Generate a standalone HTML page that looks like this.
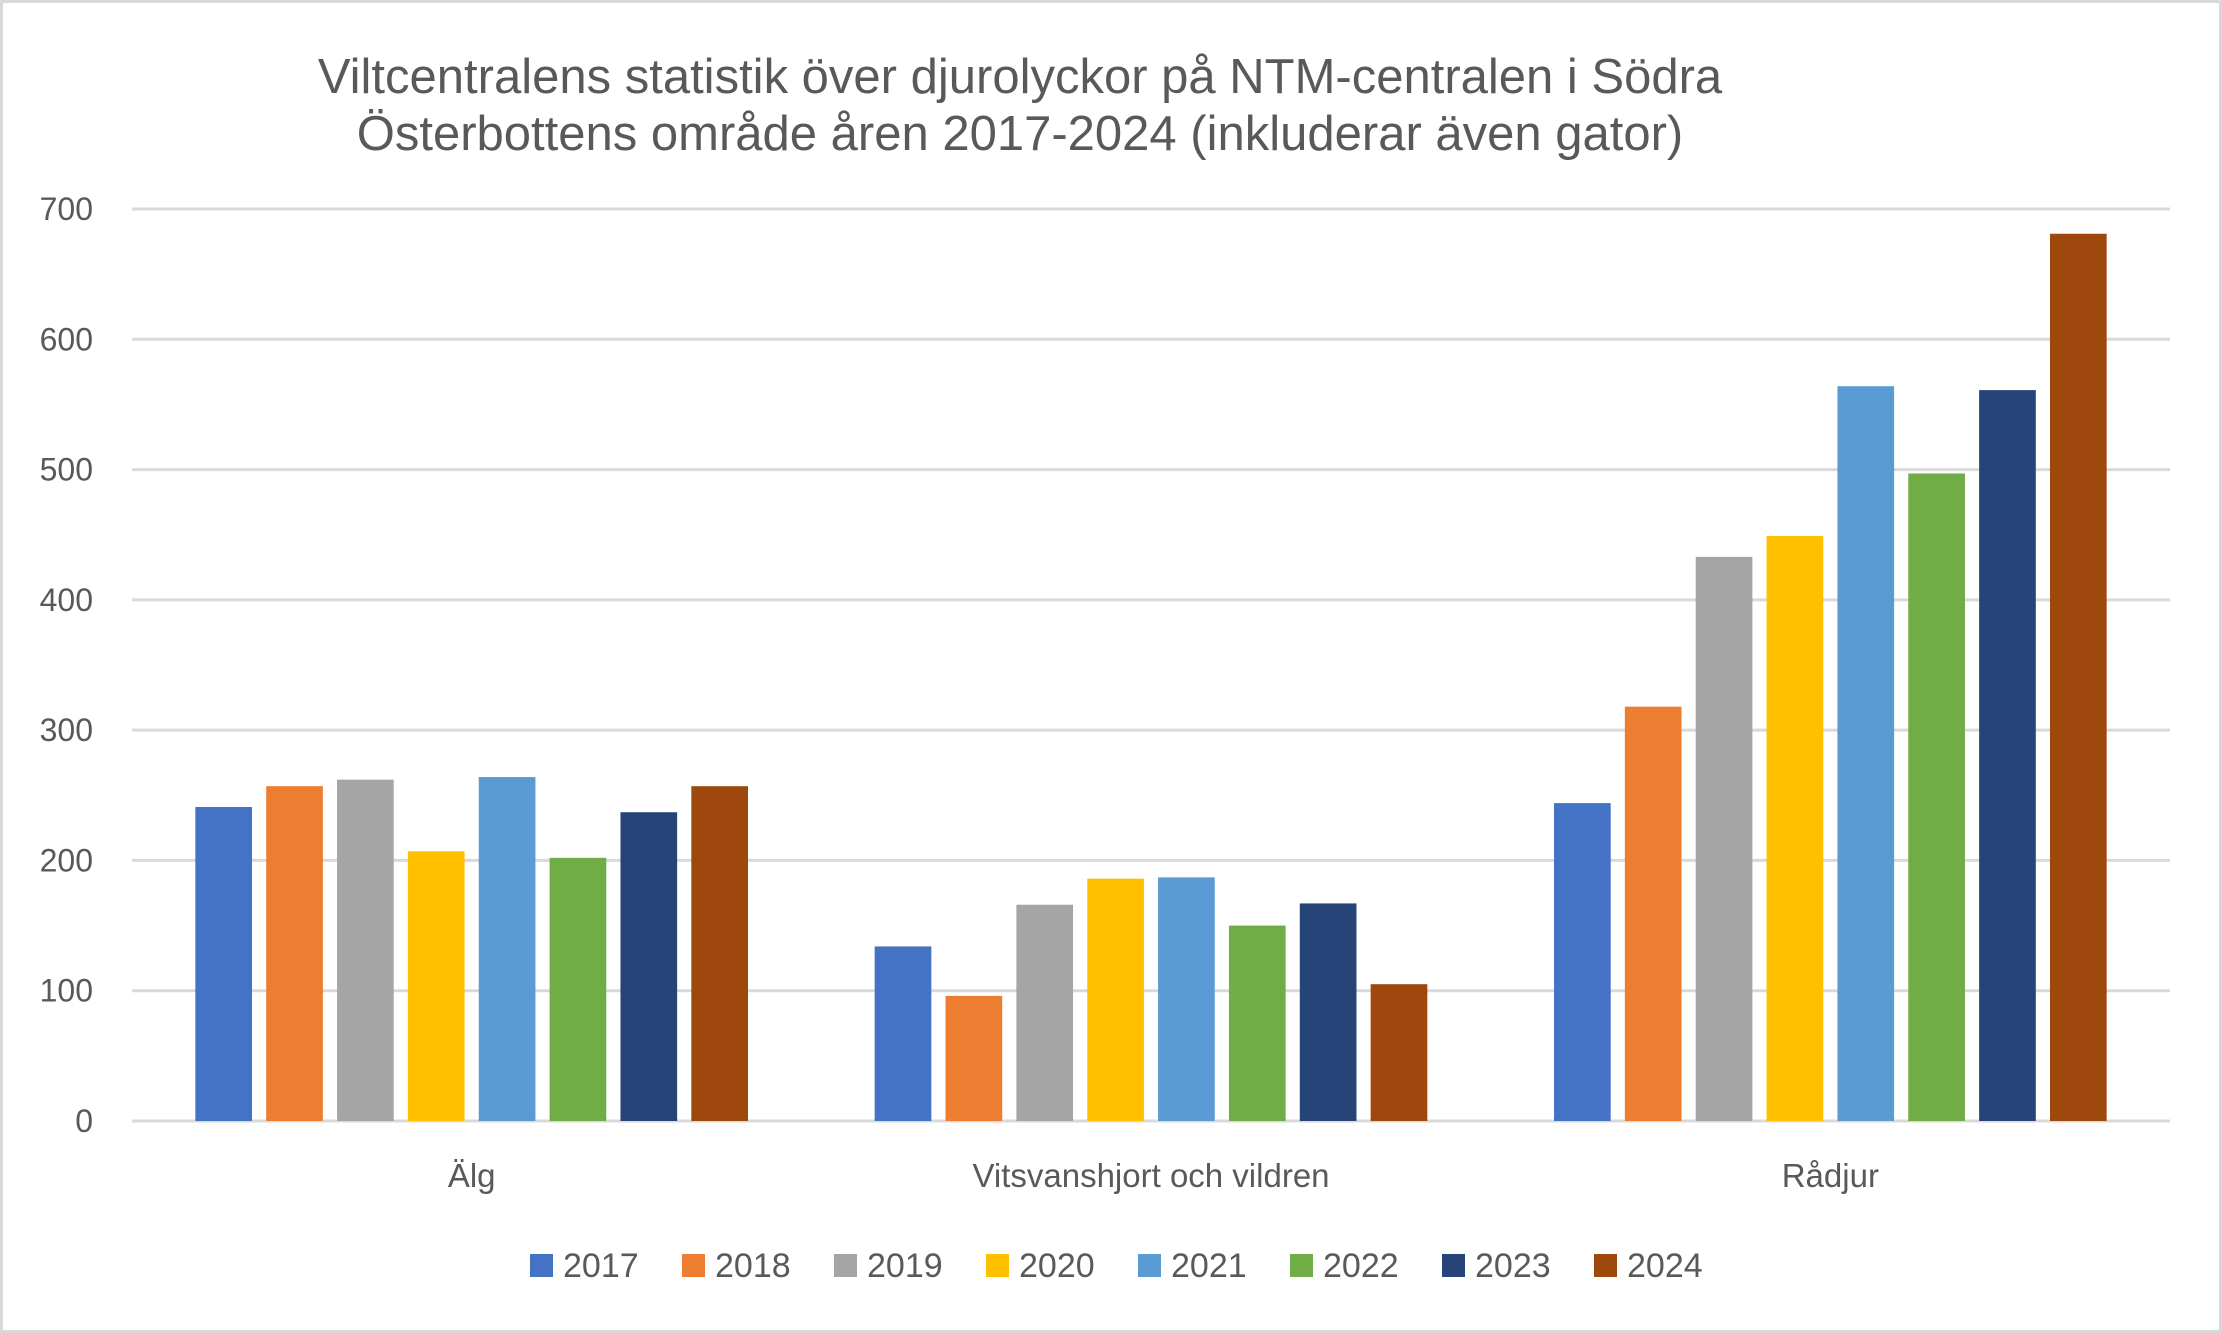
<!DOCTYPE html>
<html><head><meta charset="utf-8"><style>
html,body{margin:0;padding:0;background:#fff}
svg{display:block}
text{font-family:"Liberation Sans",sans-serif;fill:#595959}
</style></head><body>
<svg id="chart" width="2222" height="1333" viewBox="0 0 2222 1333" xmlns="http://www.w3.org/2000/svg">
<rect x="1.5" y="1.5" width="2219" height="1330" fill="#fff" stroke="#d9d9d9" stroke-width="3"/>
<text x="1020" y="93" font-size="49" text-anchor="middle">Viltcentralens statistik över djurolyckor på NTM-centralen i Södra</text>
<text x="1020" y="150" font-size="49" text-anchor="middle">Österbottens område åren 2017-2024 (inkluderar även gator)</text>
<g id="grid"></g><g id="bars"></g><g id="labels"></g><g id="legend"></g>
</svg>
<script>
const categories=["Älg","Vitsvanshjort och vildren","Rådjur"];
const years=["2017","2018","2019","2020","2021","2022","2023","2024"];
const colors=["#4472c4","#ed7d31","#a5a5a5","#ffc000","#5b9bd5","#70ad47","#264478","#9e480e"];
const s2017=[241,134,244];
const s2018=[257,96,318];
const s2019=[262,166,433];
const s2020=[207,186,449];
const s2021=[264,187,564];
const s2022=[202,150,497];
const s2023=[237,167,561];
const s2024=[257,105,681];
const series=[s2017,s2018,s2019,s2020,s2021,s2022,s2023,s2024];
const yTicks=[0,100,200,300,400,500,600,700];
const NS="http://www.w3.org/2000/svg";
const x0=132,x1=2170,yBase=1121,yTop=209,yMax=700;
const y=v=>yBase-(v/yMax)*(yBase-yTop);
const cw=(x1-x0)/categories.length;
const step=cw*0.1043,bw=step*0.8;
function mk(t,a,p){const e=document.createElementNS(NS,t);for(const k in a)e.setAttribute(k,a[k]);p.appendChild(e);return e;}
const g=document.getElementById('grid'),b=document.getElementById('bars'),l=document.getElementById('labels'),lg=document.getElementById('legend');
yTicks.forEach(t=>{
 const ln=mk('line',{x1:x0,x2:x1,y1:y(t),y2:y(t),stroke:'#d9d9d9','stroke-width':3},g);
 
 
 const tx=mk('text',{x:93,y:y(t)+11,'font-size':32,'text-anchor':'end'},l);
 tx.textContent=t;
 
 
});
categories.forEach((c,i)=>{
 const cx=x0+cw*(i+0.5);
 series.forEach((s,j)=>{
  const bx=cx-4*step+j*step+(step-bw)/2;
  const r=mk('rect',{x:bx,y:y(s[i]),width:bw,height:yBase-y(s[i]),fill:colors[j]},b);
  
  
 });
 const tx=mk('text',{x:cx,y:1187,'font-size':33,'text-anchor':'middle'},l);
 tx.textContent=c;
 
 
});
years.forEach((yr,j)=>{
 const lx=530+j*152;
 const sq=mk('rect',{x:lx,y:1254,width:23,height:23,fill:colors[j]},lg);
 
 
 const tx=mk('text',{x:lx+33,y:1277,'font-size':34},lg);
 tx.textContent=yr;
 
 
});
</script>
</body></html>
